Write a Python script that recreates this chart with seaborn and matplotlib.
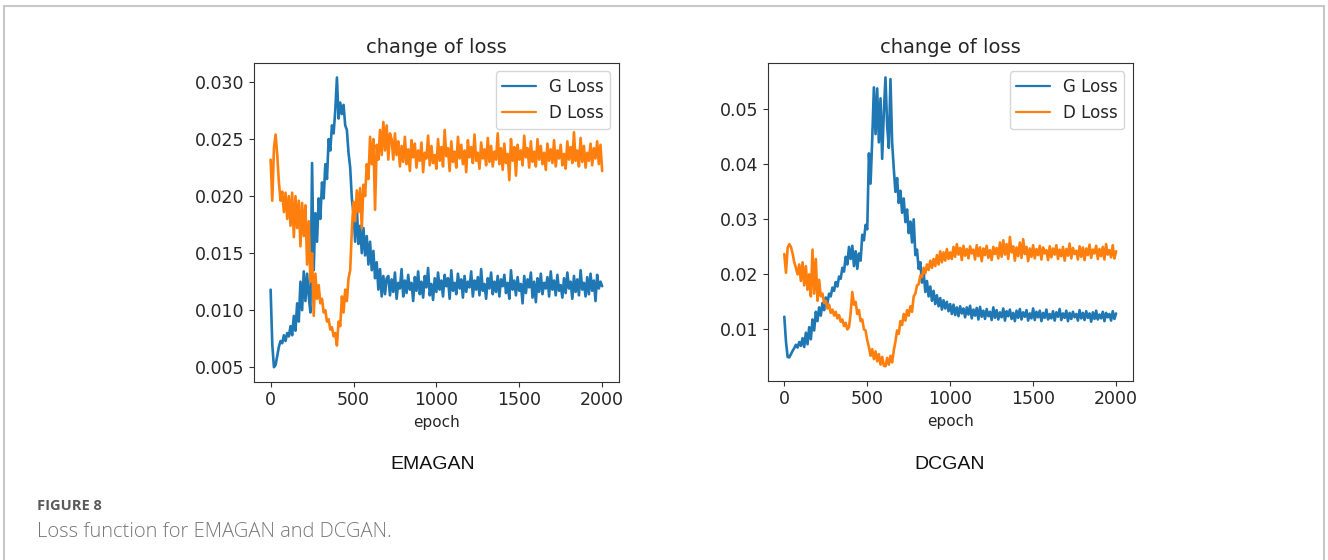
import numpy as np
import pandas as pd
import matplotlib.pyplot as plt
import seaborn as sns
from matplotlib.patches import Rectangle

epochs = np.arange(0, 2001, 10)

# EMAGAN generator loss
emagan_g = [
    0.0118, 0.0070, 0.0050, 0.0052, 0.0060, 0.0068, 0.0073, 0.0071, 0.0078, 0.0073,
    0.0080, 0.0077, 0.0086, 0.0078, 0.0095, 0.0082, 0.0106, 0.0090, 0.0125, 0.0100,
    0.0134, 0.0108, 0.0132, 0.0112, 0.0098, 0.0229, 0.0135, 0.0185, 0.0160, 0.0198,
    0.0180, 0.0212, 0.0198, 0.0228, 0.0215, 0.0250, 0.0240, 0.0262, 0.0255, 0.0275,
    0.0304, 0.0268, 0.0282, 0.0272, 0.0280, 0.0262, 0.0258, 0.0238, 0.0225, 0.0198,
    0.0185, 0.0160, 0.0190, 0.0158, 0.0174, 0.0150, 0.0172, 0.0148, 0.0165, 0.0140,
    0.0160, 0.0135, 0.0152, 0.0128, 0.0142, 0.0118, 0.0136, 0.0112, 0.0130, 0.0114,
    0.0128,
    0.0130, 0.0113, 0.0127, 0.0116, 0.0133, 0.0110, 0.0124, 0.0119, 0.0136, 0.0112,
    0.0126, 0.0115, 0.0131, 0.0118, 0.0124, 0.0108, 0.0129, 0.0117, 0.0134, 0.0114,
    0.0125, 0.0111, 0.0130, 0.0120, 0.0137, 0.0113, 0.0123, 0.0109, 0.0128, 0.0116,
    0.0133, 0.0118, 0.0126, 0.0112, 0.0131, 0.0121, 0.0128, 0.0110, 0.0135, 0.0117,
    0.0124, 0.0114, 0.0132, 0.0119, 0.0127, 0.0111, 0.0130, 0.0116, 0.0125, 0.0120,
    0.0134, 0.0112, 0.0126, 0.0118, 0.0129, 0.0113, 0.0136, 0.0117, 0.0123, 0.0110,
    0.0128, 0.0119, 0.0133, 0.0114, 0.0125, 0.0116, 0.0130, 0.0112, 0.0127, 0.0121,
    0.0131, 0.0115, 0.0124, 0.0110, 0.0135, 0.0118, 0.0126, 0.0113, 0.0129, 0.0117,
    0.0123, 0.0106, 0.0130, 0.0115, 0.0127, 0.0120, 0.0133, 0.0111, 0.0125, 0.0107,
    0.0128, 0.0116, 0.0132, 0.0114, 0.0124, 0.0119, 0.0129, 0.0112, 0.0134, 0.0118,
    0.0126, 0.0113, 0.0131, 0.0117, 0.0122, 0.0111, 0.0128, 0.0115, 0.0133, 0.0119,
    0.0125, 0.0110, 0.0130, 0.0116, 0.0127, 0.0113, 0.0135, 0.0118, 0.0124, 0.0112,
    0.0129, 0.0114, 0.0132, 0.0117, 0.0126, 0.0108, 0.0131, 0.0119, 0.0125, 0.0121,
]

# EMAGAN discriminator loss
emagan_d = [
    0.0232, 0.0196, 0.0242, 0.0254, 0.0236, 0.0212, 0.0196, 0.0204, 0.0186, 0.0203,
    0.0180, 0.0200, 0.0174, 0.0203, 0.0164, 0.0200, 0.0172, 0.0196, 0.0156, 0.0194,
    0.0165, 0.0192, 0.0140, 0.0178, 0.0125, 0.0150, 0.0095, 0.0132, 0.0110, 0.0122,
    0.0106, 0.0110, 0.0098, 0.0100, 0.0090, 0.0092, 0.0083, 0.0085, 0.0077, 0.0080,
    0.0069, 0.0090, 0.0086, 0.0112, 0.0098, 0.0118, 0.0108, 0.0128, 0.0135, 0.0170,
    0.0195, 0.0178, 0.0205, 0.0186, 0.0207, 0.0172, 0.0210, 0.0200, 0.0228, 0.0215,
    0.0252, 0.0228, 0.0250, 0.0188, 0.0245, 0.0232, 0.0258, 0.0236, 0.0265, 0.0240,
    0.0262, 0.0232, 0.0255,
    0.0250, 0.0232, 0.0255, 0.0236, 0.0248, 0.0226, 0.0244, 0.0230,
    0.0252, 0.0228, 0.0241, 0.0222, 0.0249, 0.0234, 0.0246, 0.0225, 0.0240, 0.0231,
    0.0247, 0.0221, 0.0238, 0.0233, 0.0253, 0.0227, 0.0244, 0.0229, 0.0236, 0.0224,
    0.0250, 0.0231, 0.0243, 0.0226, 0.0258, 0.0235, 0.0242, 0.0222, 0.0248, 0.0230,
    0.0239, 0.0225, 0.0252, 0.0233, 0.0245, 0.0228, 0.0240, 0.0221, 0.0249, 0.0234,
    0.0243, 0.0229, 0.0254, 0.0231, 0.0238, 0.0224, 0.0247, 0.0233, 0.0241, 0.0227,
    0.0251, 0.0230, 0.0244, 0.0226, 0.0239, 0.0232, 0.0255, 0.0228, 0.0242, 0.0223,
    0.0246, 0.0229, 0.0237, 0.0214, 0.0250, 0.0231, 0.0243, 0.0218, 0.0245, 0.0232,
    0.0240, 0.0227, 0.0253, 0.0234, 0.0242, 0.0225, 0.0248, 0.0230, 0.0239, 0.0226,
    0.0250, 0.0232, 0.0244, 0.0228, 0.0238, 0.0223, 0.0246, 0.0231, 0.0241, 0.0229,
    0.0249, 0.0226, 0.0240, 0.0233, 0.0245, 0.0227, 0.0237, 0.0224, 0.0248, 0.0232,
    0.0243, 0.0229, 0.0256, 0.0231, 0.0240, 0.0226, 0.0251, 0.0230, 0.0244, 0.0225,
    0.0238, 0.0231, 0.0246, 0.0227, 0.0242, 0.0233, 0.0248, 0.0228, 0.0245, 0.0222,
]

# DCGAN generator loss
dcgan_g = [
    0.0123, 0.0078, 0.0050, 0.0049, 0.0055, 0.0061, 0.0066, 0.0072, 0.0067, 0.0077,
    0.0070, 0.0084, 0.0068, 0.0094, 0.0073, 0.0104, 0.0082, 0.0118, 0.0098, 0.0132,
    0.0115, 0.0140, 0.0125, 0.0148, 0.0135, 0.0158, 0.0148, 0.0165, 0.0160, 0.0176,
    0.0170, 0.0186, 0.0178, 0.0196, 0.0192, 0.0212, 0.0205, 0.0232, 0.0218, 0.0250,
    0.0228, 0.0252, 0.0215, 0.0242, 0.0210, 0.0238, 0.0225, 0.0272, 0.0262, 0.0290,
    0.0282, 0.0420, 0.0365, 0.0445, 0.0540, 0.0455, 0.0538, 0.0440, 0.0520, 0.0410,
    0.0495, 0.0558, 0.0470, 0.0430, 0.0555, 0.0440, 0.0392, 0.0350, 0.0375, 0.0330,
    0.0352, 0.0312, 0.0338, 0.0295, 0.0318, 0.0275, 0.0296, 0.0258, 0.0300, 0.0235,
    0.0245, 0.0210, 0.0222, 0.0185, 0.0205, 0.0168, 0.0188, 0.0160, 0.0178, 0.0152,
    0.0170, 0.0146, 0.0162, 0.0142, 0.0157, 0.0136, 0.0153, 0.0138, 0.0150, 0.0133,
    0.0146,
    0.0128, 0.0145, 0.0126, 0.0140, 0.0124, 0.0142, 0.0129, 0.0138, 0.0122, 0.0140,
    0.0127, 0.0143, 0.0120, 0.0136, 0.0125, 0.0139, 0.0118, 0.0141, 0.0123, 0.0134,
    0.0119, 0.0137, 0.0124, 0.0132, 0.0117, 0.0140, 0.0121, 0.0135, 0.0118, 0.0131,
    0.0122, 0.0138, 0.0116, 0.0133, 0.0124, 0.0136, 0.0119, 0.0130, 0.0115, 0.0134,
    0.0121, 0.0137, 0.0118, 0.0131, 0.0123, 0.0135, 0.0116, 0.0129, 0.0120, 0.0138,
    0.0117, 0.0132, 0.0122, 0.0134, 0.0115, 0.0130, 0.0121, 0.0136, 0.0118, 0.0128,
    0.0120, 0.0133, 0.0116, 0.0131, 0.0123, 0.0137, 0.0117, 0.0129, 0.0121, 0.0134,
    0.0115, 0.0130, 0.0119, 0.0132, 0.0122, 0.0128, 0.0116, 0.0135, 0.0120, 0.0130,
    0.0117, 0.0133, 0.0121, 0.0129, 0.0114, 0.0131, 0.0119, 0.0134, 0.0118, 0.0127,
    0.0120, 0.0132, 0.0115, 0.0130, 0.0122, 0.0128, 0.0116, 0.0133, 0.0119, 0.0129,
]

# DCGAN discriminator loss
dcgan_d = [
    0.0237, 0.0203, 0.0248, 0.0255, 0.0250, 0.0238, 0.0222, 0.0212, 0.0200, 0.0218,
    0.0188, 0.0222, 0.0180, 0.0215, 0.0172, 0.0200, 0.0160, 0.0245, 0.0165, 0.0228,
    0.0152, 0.0190, 0.0160, 0.0165, 0.0148, 0.0152, 0.0138, 0.0145, 0.0130, 0.0136,
    0.0125, 0.0132, 0.0120, 0.0126, 0.0114, 0.0118, 0.0106, 0.0112, 0.0100, 0.0104,
    0.0130, 0.0168, 0.0145, 0.0150, 0.0128, 0.0135, 0.0115, 0.0118, 0.0100, 0.0098,
    0.0080, 0.0068, 0.0052, 0.0064, 0.0046, 0.0060, 0.0042, 0.0055, 0.0036, 0.0050,
    0.0034, 0.0033, 0.0048, 0.0036, 0.0052, 0.0040, 0.0062, 0.0078, 0.0098, 0.0092,
    0.0115, 0.0108, 0.0128, 0.0116, 0.0135, 0.0125, 0.0142, 0.0132, 0.0160, 0.0165,
    0.0180, 0.0182, 0.0198, 0.0195, 0.0212, 0.0202, 0.0218, 0.0208, 0.0225, 0.0212,
    0.0228, 0.0215, 0.0235, 0.0218, 0.0242, 0.0222, 0.0240, 0.0225, 0.0246, 0.0228,
    0.0240,
    0.0228, 0.0250, 0.0232, 0.0255, 0.0236, 0.0248, 0.0226, 0.0252, 0.0234, 0.0246,
    0.0229, 0.0251, 0.0238, 0.0245, 0.0227, 0.0253, 0.0233, 0.0249, 0.0224, 0.0247,
    0.0235, 0.0252, 0.0230, 0.0244, 0.0226, 0.0250, 0.0237, 0.0248, 0.0229, 0.0258,
    0.0232, 0.0262, 0.0236, 0.0255, 0.0228, 0.0268, 0.0240, 0.0251, 0.0225, 0.0249,
    0.0233, 0.0258, 0.0230, 0.0264, 0.0237, 0.0250, 0.0224, 0.0247, 0.0232, 0.0253,
    0.0229, 0.0246, 0.0235, 0.0252, 0.0227, 0.0249, 0.0238, 0.0244, 0.0226, 0.0251,
    0.0231, 0.0247, 0.0236, 0.0253, 0.0228, 0.0245, 0.0233, 0.0250, 0.0225, 0.0246,
    0.0234, 0.0256, 0.0229, 0.0248, 0.0237, 0.0243, 0.0227, 0.0251, 0.0232, 0.0249,
    0.0226, 0.0247, 0.0235, 0.0254, 0.0230, 0.0245, 0.0238, 0.0252, 0.0228, 0.0246,
    0.0233, 0.0250, 0.0227, 0.0255, 0.0236, 0.0244, 0.0231, 0.0253, 0.0229, 0.0242,
]

models = ["EMAGAN", "DCGAN"]
series = {"EMAGAN": (emagan_g, emagan_d), "DCGAN": (dcgan_g, dcgan_d)}

sns.set_style("ticks")
plt.rcParams["font.family"] = ["DejaVu Sans"]

fig = plt.figure(figsize=(13.28, 5.6), dpi=100)

boxes = [[0.1913, 0.3184, 0.2746, 0.5691], [0.5781, 0.3202, 0.2748, 0.5673]]
label_x = [0.326, 0.7154]

for name, box, lx in zip(models, boxes, label_x):
    g, d = series[name]
    df = pd.DataFrame({"epoch": np.concatenate([epochs, epochs]),
                       "loss": np.concatenate([g, d]),
                       "kind": ["G Loss"] * len(epochs) + ["D Loss"] * len(epochs)})
    ax = fig.add_axes(box)
    sns.lineplot(data=df, x="epoch", y="loss", hue="kind",
                 palette=["#1f77b4", "#ff7f0e"], linewidth=1.9, ax=ax)
    ax.set_title("change of loss", fontsize=14, pad=7)
    ax.set_xlabel("epoch", fontsize=11)
    ax.set_ylabel("")
    ax.set_xticks([0, 500, 1000, 1500, 2000])
    ax.tick_params(labelsize=12.5, color="#333333")
    for s in ax.spines.values():
        s.set_color("#333333")
    leg = ax.legend(title=None, loc="upper right", fontsize=12, framealpha=0.8)
    for line in leg.get_lines():
        line.set_linewidth(1.6)
    fig.text(lx, 0.171, name, ha="center", va="center",
             fontsize=14, family="Liberation Sans", color="#111111")

# caption
fig.text(0.028, 0.0964, "FIGURE 8", fontsize=10.5, fontweight="bold",
         family="Open Sans", color="#5a5a5a", va="center")
fig.text(0.028, 0.050, "Loss function for EMAGAN and DCGAN.", fontsize=14.5,
         fontweight="light", family="Open Sans", color="#777777", va="center")

# light frame around the figure
fig.add_artist(Rectangle((0.003, -0.01), 0.994, 1.0, transform=fig.transFigure,
                         fill=False, edgecolor="#c8c8c8", linewidth=1.5))

fig.savefig("out.png", dpi=100)
